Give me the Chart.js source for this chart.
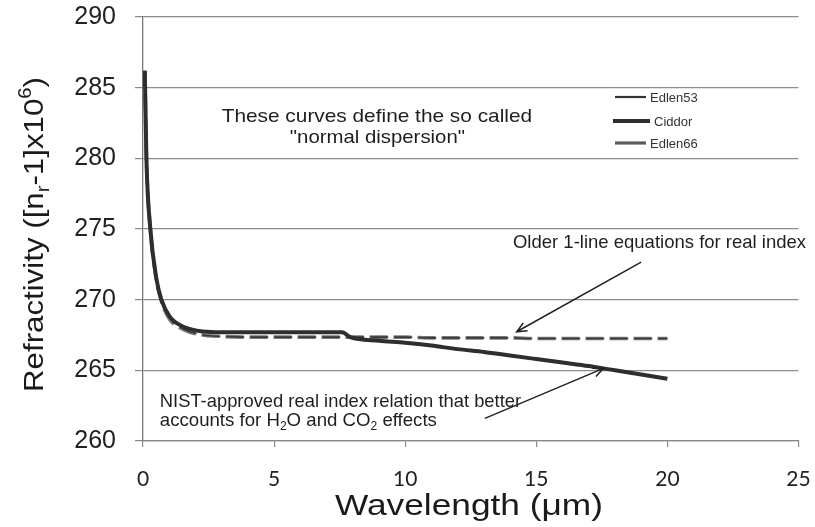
<!DOCTYPE html>
<html>
<head>
<meta charset="utf-8">
<script src="https://cdn.jsdelivr.net/npm/chart.js@4.4.1/dist/chart.umd.min.js"></script>
<style>
  html, body { margin: 0; padding: 0; background: #fff; }
  #wrap { width: 815px; height: 527px; }
</style>
</head>
<body>
<div id="wrap"><canvas id="c" width="815" height="527"></canvas></div>
<script>
// Wavelength in micrometres, shared by all three refractivity curves
const wavelength = [0.07, 0.13, 0.28, 0.51, 0.70, 1.02, 1.52, 2.28, 3, 4, 5, 6, 7, 7.6, 7.9,
                    9, 10, 11, 12, 13, 14, 15, 16, 17, 18, 19, 20];

// Refractivity (n_r - 1) x 10^6
const ciddor  = [286.2, 280.0, 275.0, 271.5, 270.0, 268.8, 268.1, 267.75, 267.7, 267.7, 267.7, 267.7, 267.7, 267.7, 267.35,
                 267.1, 266.95, 266.75, 266.5, 266.3, 266.05, 265.8, 265.55, 265.3, 265.0, 264.7, 264.4];
const edlen53 = [286.2, 280.0, 275.0, 271.5, 270.0, 268.7, 267.95, 267.5, 267.4, 267.35, 267.35, 267.35, 267.35, 267.35, 267.35,
                 267.35, 267.35, 267.3, 267.3, 267.3, 267.3, 267.25, 267.25, 267.25, 267.25, 267.25, 267.25];
const edlen66 = [286.2, 280.0, 275.0, 271.4, 269.9, 268.6, 267.9, 267.5, 267.4, 267.35, 267.35, 267.35, 267.35, 267.35, 267.35,
                 267.35, 267.35, 267.3, 267.3, 267.3, 267.3, 267.25, 267.25, 267.25, 267.25, 267.25, 267.25];

const xTicks = [0, 5, 10, 15, 20, 25];
const yTicks = [260, 265, 270, 275, 280, 285, 290];

const pairs = ys => wavelength.map((x, i) => ({ x, y: ys[i] }));

// Rich text: segments may be subscript or superscript; optionally stretched to a width
function drawRich(ctx, segs, size, family, x, y, targetW, align) {
  const parts = segs.map(s => {
    const fs = (s.sub || s.sup) ? size * 0.65 : size;
    ctx.font = fs + 'px ' + family;
    return Object.assign({}, s, { fs, w: ctx.measureText(s.t).width });
  });
  const natural = parts.reduce((a, p) => a + p.w, 0);
  const k = targetW ? targetW / natural : 1;
  ctx.save();
  ctx.translate(x, y);
  ctx.scale(k, 1);
  let cx = align === 'center' ? -natural / 2 : 0;
  ctx.textAlign = 'left';
  ctx.textBaseline = 'alphabetic';
  for (const p of parts) {
    ctx.font = p.fs + 'px ' + family;
    const dy = p.sub ? size * 0.22 : (p.sup ? -size * 0.42 : 0);
    ctx.fillText(p.t, cx, dy);
    cx += p.w;
  }
  ctx.restore();
}

function arrow(ctx, x1, y1, x2, y2) {
  const a = Math.atan2(y2 - y1, x2 - x1);
  const L = 11, s = 0.42;
  ctx.beginPath();
  ctx.moveTo(x1, y1);
  ctx.lineTo(x2, y2);
  ctx.moveTo(x2 - L * Math.cos(a - s), y2 - L * Math.sin(a - s));
  ctx.lineTo(x2, y2);
  ctx.lineTo(x2 - L * Math.cos(a + s), y2 - L * Math.sin(a + s));
  ctx.stroke();
}

const FONT = '"Liberation Sans", Arial, sans-serif';

// Notes and arrows, placed in data units
const notes = [
  { segs: [{ t: 'These curves define the so called' }], x1: 3.00, x2: 14.84, y: 282.57 },
  { segs: [{ t: '"normal dispersion"' }], x1: 5.60, x2: 12.28, y: 281.08 },
  { segs: [{ t: 'Older 1-line equations for real index' }], x1: 14.11, x2: 25.29, y: 273.65 },
  { segs: [{ t: 'NIST-approved real index relation that better' }], x1: 0.64, x2: 14.42, y: 262.43 },
  { segs: [{ t: 'accounts for H' }, { t: '2', sub: true }, { t: 'O and CO' }, { t: '2', sub: true }, { t: ' effects' }],
    x1: 0.64, x2: 11.21, y: 261.06 }
];
const arrows = [
  { from: [19.0, 272.66], to: [14.25, 267.73] },
  { from: [13.04, 261.60], to: [17.56, 265.14] }
];

const decor = {
  id: 'decor',
  afterDatasetsDraw(chart) {
    const ctx = chart.ctx;
    const xs = chart.scales.x, ys = chart.scales.y;
    ctx.save();
    ctx.fillStyle = '#1e1e1e';
    for (const n of notes) {
      const px1 = xs.getPixelForValue(n.x1), px2 = xs.getPixelForValue(n.x2);
      drawRich(ctx, n.segs, 18.5, FONT, px1, ys.getPixelForValue(n.y), px2 - px1, 'left');
    }
    ctx.strokeStyle = '#222';
    ctx.lineWidth = 1.5;
    for (const a of arrows) {
      arrow(ctx, xs.getPixelForValue(a.from[0]), ys.getPixelForValue(a.from[1]),
                 xs.getPixelForValue(a.to[0]), ys.getPixelForValue(a.to[1]));
    }
    // legend
    const rows = [
      { ds: 0, y: 97, x1: 615, x2: 646 },
      { ds: 1, y: 121, x1: 613, x2: 650 },
      { ds: 2, y: 143, x1: 615, x2: 646 }
    ];
    const legendStyle = [
      { color: '#333', width: 2.2 },
      { color: '#2e2e2e', width: 4 },
      { color: '#5a5a5a', width: 3.2 }
    ];
    ctx.font = '13px ' + FONT;
    ctx.textBaseline = 'middle';
    ctx.textAlign = 'left';
    rows.forEach((r, i) => {
      const ds = chart.data.datasets[r.ds];
      ctx.strokeStyle = legendStyle[i].color;
      ctx.lineWidth = legendStyle[i].width;
      ctx.beginPath();
      ctx.moveTo(r.x1, r.y);
      ctx.lineTo(r.x2, r.y);
      ctx.stroke();
      ctx.fillStyle = '#333';
      ctx.fillText(ds.label, r.x2 + 4, r.y + 1);
    });
    ctx.restore();
  },
  afterDraw(chart) {
    const ctx = chart.ctx;
    ctx.save();
    ctx.fillStyle = '#1a1a1a';
    drawRich(ctx, [{ t: 'Wavelength (μm)' }], 30, FONT, 335, 515, 268, 'left');
    ctx.translate(43, 234.5);
    ctx.rotate(-Math.PI / 2);
    drawRich(ctx, [{ t: 'Refractivity ([n' }, { t: 'r', sub: true }, { t: '-1]x10' }, { t: '6', sup: true }, { t: ')' }],
             28, FONT, 0, 0, 315, 'center');
    ctx.restore();
  }
};

new Chart(document.getElementById('c'), {
  type: 'line',
  data: {
    datasets: [
      { label: 'Edlen53', data: pairs(edlen53), borderColor: '#3a3a3a', borderWidth: 1.6,
        borderDash: [18, 6], order: 1 },
      { label: 'Ciddor', data: pairs(ciddor), borderColor: '#2e2e2e', borderWidth: 4, order: 0 },
      { label: 'Edlen66', data: pairs(edlen66), borderColor: '#7a7a7a', borderWidth: 3.6,
        borderDash: [18, 6], order: 2 }
    ]
  },
  options: {
    responsive: false,
    animation: false,
    devicePixelRatio: 1,
    layout: { padding: { top: 17, right: 16.5, bottom: 0, left: 0 } },
    elements: {
      point: { radius: 0 },
      line: { cubicInterpolationMode: 'monotone', borderJoinStyle: 'round', fill: false }
    },
    plugins: { legend: { display: false }, tooltip: { enabled: false } },
    scales: {
      x: {
        type: 'linear', min: 0, max: 25,
        afterBuildTicks: s => { s.ticks = xTicks.map(v => ({ value: v })); },
        afterFit: s => { s.height = 86; s.paddingLeft = 0; s.paddingRight = 0; },
        grid: { drawOnChartArea: false, tickLength: 6, color: '#888', lineWidth: 1.2 },
        border: { color: '#888', width: 1.2 },
        ticks: { font: { family: 'Lato', size: 21 }, color: '#222', padding: 20, maxRotation: 0, autoSkip: false }
      },
      y: {
        type: 'linear', min: 260, max: 290,
        afterBuildTicks: s => { s.ticks = yTicks.map(v => ({ value: v })); },
        afterFit: s => { s.width = 143; s.paddingTop = 0; s.paddingBottom = 0; },
        grid: { color: '#8c8c8c', lineWidth: 1.2, tickLength: 8, tickColor: '#888' },
        border: { color: '#777', width: 1.3 },
        ticks: { font: { family: '"Liberation Sans"', size: 25 }, color: '#222', padding: 19 }
      }
    }
  },
  plugins: [decor]
});
</script>
</body>
</html>
